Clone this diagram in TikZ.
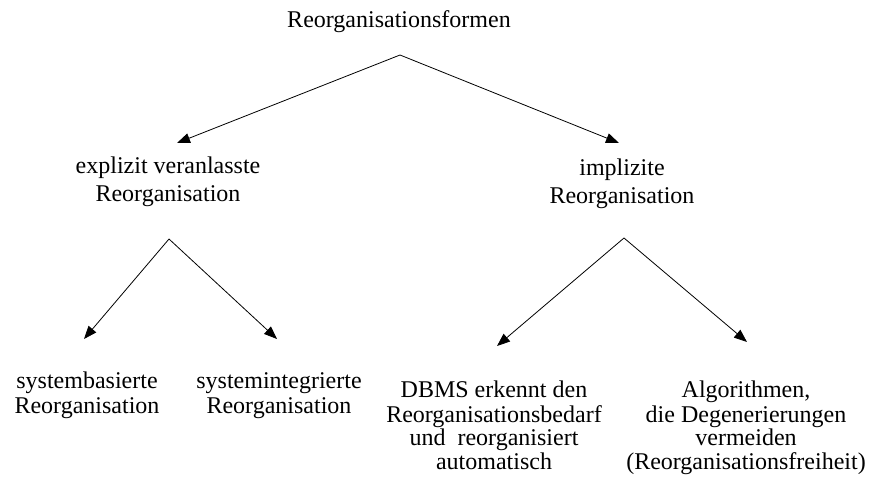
\documentclass[tikz,border=0pt]{standalone}
\usepackage{fontspec}
\setmainfont{Liberation Serif}
\usetikzlibrary{arrows.meta}

\tikzset{
  label/.style={anchor=north, inner sep=0pt, align=center,
    font=\fontsize{24}{#1}\selectfont},
  label/.default=24,
  branch/.style={line width=0.8pt, -{Triangle[length=13pt,width=10pt]}}
}

\begin{document}
\begin{tikzpicture}[x=1pt,y=-1pt]
  \useasboundingbox (0,0) rectangle (871,495);

  % first baseline sits 0.7\baselineskip below each node's north anchor (\strut)
  \node[label] (root) at (399,10.2) {\strut Reorganisationsformen};

  \node[label=28.5] (explicit) at (168,153.05) {\strut explizit veranlasste\\Reorganisation};
  \node[label=28.5] (implicit) at (622,155.05) {\strut implizite\\Reorganisation};

  \node[label=25] (sysbased) at (87,370.5) {\strut systembasierte\\Reorganisation};
  \node[label=25] (sysintegr) at (279,370.5) {\strut systemintegrierte\\Reorganisation};

  \node[label=23.7] (dbms) at (494,380.4) {\strut DBMS erkennt den\\Reorganisationsbedarf\\und\ \ reorganisiert\\automatisch};
  \node[label=23.7] (algo) at (746,380.4) {\strut Algorithmen,\\die Degenerierungen\\vermeiden\\(Reorganisationsfreiheit)};

  % fork points and arrow tips
  \coordinate (rootfork) at (400,55);
  \coordinate (explicittip) at (177,143);
  \coordinate (implicittip) at (619,143);
  \coordinate (explicitfork) at (169,239);
  \coordinate (sysbasedtip) at (84,339);
  \coordinate (sysintegrtip) at (277,339);
  \coordinate (implicitfork) at (624,238);
  \coordinate (dbmstip) at (497,346);
  \coordinate (algotip) at (747,342);

  \draw[branch] (rootfork) -- (explicittip);
  \draw[branch] (rootfork) -- (implicittip);
  \draw[branch] (explicitfork) -- (sysbasedtip);
  \draw[branch] (explicitfork) -- (sysintegrtip);
  \draw[branch] (implicitfork) -- (dbmstip);
  \draw[branch] (implicitfork) -- (algotip);
\end{tikzpicture}
\end{document}
